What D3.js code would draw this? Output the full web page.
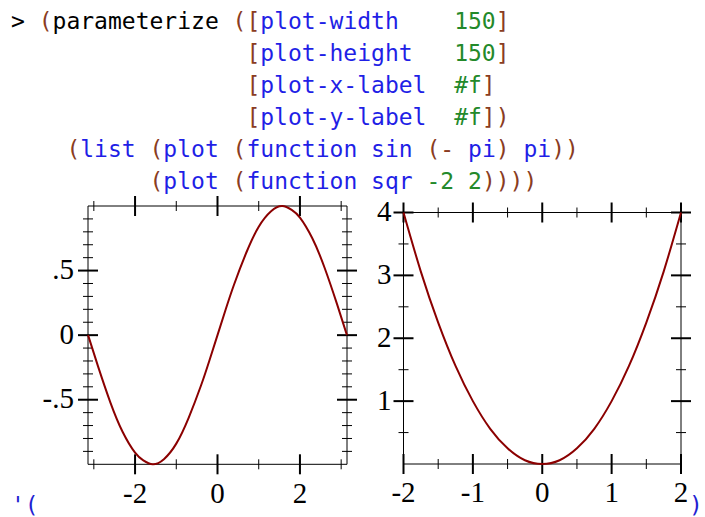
<!DOCTYPE html>
<html>
<head>
<meta charset="utf-8">
<script src="https://cdn.jsdelivr.net/npm/d3@7"></script>
<style>
  html, body { margin: 0; padding: 0; background: #fff; }
  svg { display: block; }
  .code { font-family: "DejaVu Sans Mono", monospace; font-size: 23px; white-space: pre; }
  .tick-label { font-family: "Liberation Serif", "Times New Roman", serif; font-size: 29px; fill: #000; }
</style>
</head>
<body>
<svg id="chart" width="705" height="517"></svg>
<script>
// REPL text, one token list per line: [kind, text]
const codeLines = [
  [['plain', '> '], ['paren', '('], ['plain', 'parameterize'], ['plain', ' '], ['paren', '(['], ['sym', 'plot-width'], ['plain', '    '], ['val', '150'], ['paren', ']']],
  [['plain', '                 '], ['paren', '['], ['sym', 'plot-height'], ['plain', '   '], ['val', '150'], ['paren', ']']],
  [['plain', '                 '], ['paren', '['], ['sym', 'plot-x-label'], ['plain', '  '], ['val', '#f'], ['paren', ']']],
  [['plain', '                 '], ['paren', '['], ['sym', 'plot-y-label'], ['plain', '  '], ['val', '#f'], ['paren', '])']],
  [['plain', '    '], ['paren', '('], ['sym', 'list'], ['plain', ' '], ['paren', '('], ['sym', 'plot'], ['plain', ' '], ['paren', '('], ['sym', 'function'], ['plain', ' '], ['sym', 'sin'], ['plain', ' '], ['paren', '(-'], ['plain', ' '], ['sym', 'pi'], ['paren', ')'], ['plain', ' '], ['sym', 'pi'], ['paren', '))']],
  [['plain', '          '], ['paren', '('], ['sym', 'plot'], ['plain', ' '], ['paren', '('], ['sym', 'function'], ['plain', ' '], ['sym', 'sqr'], ['plain', ' '], ['val', '-2'], ['plain', ' '], ['val', '2'], ['paren', '))))']]
]
const resultOpen = "'("
const resultClose = ')'

// plot 1: (function sin (- pi) pi)
const sinX = [-3.14, -2.9, -2.6, -2.3, -2.0, -1.8, -1.57, -1.3, -1.0, -0.7, -0.4, -0.2, 0, 0.2, 0.4, 0.7, 1.0, 1.3, 1.57, 1.8, 2.0, 2.3, 2.6, 2.9, 3.14]
const sinY = [0, -0.24, -0.52, -0.75, -0.91, -0.97, -1.0, -0.96, -0.84, -0.64, -0.39, -0.2, 0, 0.2, 0.39, 0.64, 0.84, 0.96, 1.0, 0.97, 0.91, 0.75, 0.52, 0.24, 0]
const sinDomainX = [-3.14159, 3.14159]
const sinDomainY = [-1, 1]
const sinXMajor = [-2, 0, 2]
const sinXMinor = [-3, -1, 1, 3]
const sinXLabels = ['-2', '0', '2']
const sinYMajor = [-0.5, 0, 0.5]
const sinYMinor = [-0.9, -0.8, -0.7, -0.6, -0.4, -0.3, -0.2, -0.1, 0.1, 0.2, 0.3, 0.4, 0.6, 0.7, 0.8, 0.9]
const sinYLabels = ['-.5', '0', '.5']

// plot 2: (function sqr -2 2)
const sqrX = [-2, -1.75, -1.5, -1.25, -1, -0.75, -0.5, -0.25, 0, 0.25, 0.5, 0.75, 1, 1.25, 1.5, 1.75, 2]
const sqrY = [4, 3.06, 2.25, 1.56, 1, 0.56, 0.25, 0.06, 0, 0.06, 0.25, 0.56, 1, 1.56, 2.25, 3.06, 4]
const sqrDomainX = [-2, 2]
const sqrDomainY = [0, 4]
const sqrXMajor = [-2, -1, 0, 1, 2]
const sqrXMinor = [-1.5, -0.5, 0.5, 1.5]
const sqrXLabels = ['-2', '-1', '0', '1', '2']
const sqrYMajor = [1, 2, 3, 4]
const sqrYMinor = [0.5, 1.5, 2.5, 3.5]
const sqrYLabels = ['1', '2', '3', '4']

const colors = { plain: '#000000', paren: '#8a3c22', sym: '#1f1fe6', val: '#23892a', out: '#1f1fd2' }
const curveColor = '#8b0000'

const svg = d3.select('#chart')

// code listing
const codeX = 11
const codeTop = 28.7
const lineStep = 32

svg.selectAll('text.code-line')
  .data(codeLines)
  .enter()
  .append('text')
  .attr('class', 'code code-line')
  .attr('xml:space', 'preserve')
  .attr('x', codeX)
  .attr('y', (d, i) => codeTop + i * lineStep)
  .selectAll('tspan')
  .data(d => d)
  .enter()
  .append('tspan')
  .attr('fill', d => colors[d[0]])
  .text(d => d[1])

svg.append('text').attr('class', 'code').attr('xml:space', 'preserve')
  .attr('x', codeX).attr('y', 513).attr('fill', colors.out).text(resultOpen)
svg.append('text').attr('class', 'code').attr('xml:space', 'preserve')
  .attr('x', 689).attr('y', 513).attr('fill', colors.out).text(resultClose)

/**
 * Draws one framed plot with ticks on all four sides and a curve.
 */
function drawPlot (cfg) {
  const x = d3.scaleLinear().domain(cfg.domainX).range([cfg.left, cfg.right])
  const y = d3.scaleLinear().domain(cfg.domainY).range([cfg.bottom, cfg.top])
  const g = svg.append('g')

  // frame
  const frame = [
    [cfg.left, cfg.top, cfg.right, cfg.top],
    [cfg.left, cfg.bottom, cfg.right, cfg.bottom],
    [cfg.left, cfg.top, cfg.left, cfg.bottom],
    [cfg.right, cfg.top, cfg.right, cfg.bottom]
  ]
  g.selectAll('line.frame')
    .data(frame)
    .enter()
    .append('line')
    .attr('class', 'frame')
    .attr('x1', d => d[0]).attr('y1', d => d[1])
    .attr('x2', d => d[2]).attr('y2', d => d[3])
    .attr('stroke', '#000')
    .attr('stroke-width', 1)

  // x ticks, bottom and top
  const xTicks = cfg.xMajor.map(v => ({ v, r: 10, w: 2 }))
    .concat(cfg.xMinor.map(v => ({ v, r: 5, w: 1 })))
  ;[cfg.top, cfg.bottom].forEach(yy => {
    g.selectAll(null)
      .data(xTicks)
      .enter()
      .append('line')
      .attr('x1', d => x(d.v)).attr('x2', d => x(d.v))
      .attr('y1', d => yy - d.r).attr('y2', d => yy + d.r)
      .attr('stroke', '#000')
      .attr('stroke-width', d => d.w)
  })

  // y ticks, left and right
  const yTicks = cfg.yMajor.map(v => ({ v, r: 10, w: 2 }))
    .concat(cfg.yMinor.map(v => ({ v, r: 5, w: 1 })))
  ;[cfg.left, cfg.right].forEach(xx => {
    g.selectAll(null)
      .data(yTicks)
      .enter()
      .append('line')
      .attr('y1', d => y(d.v)).attr('y2', d => y(d.v))
      .attr('x1', d => xx - d.r).attr('x2', d => xx + d.r)
      .attr('stroke', '#000')
      .attr('stroke-width', d => d.w)
  })

  // tick labels
  g.selectAll('text.xl')
    .data(cfg.xMajor)
    .enter()
    .append('text')
    .attr('class', 'tick-label xl')
    .attr('x', d => x(d))
    .attr('y', cfg.xLabelY)
    .attr('text-anchor', 'middle')
    .text((d, i) => cfg.xLabels[i])

  g.selectAll('text.yl')
    .data(cfg.yMajor)
    .enter()
    .append('text')
    .attr('class', 'tick-label yl')
    .attr('x', cfg.left - cfg.yLabelGap)
    .attr('y', d => y(d) + 8.5)
    .attr('text-anchor', 'end')
    .text((d, i) => cfg.yLabels[i])

  // curve
  const pts = cfg.xs.map((v, i) => [v, cfg.ys[i]])
  g.append('path')
    .datum(pts)
    .attr('fill', 'none')
    .attr('stroke', curveColor)
    .attr('stroke-width', 2)
    .attr('d', d3.line().x(d => x(d[0])).y(d => y(d[1])).curve(d3.curveNatural))
}

drawPlot({
  left: 88, right: 347, top: 206, bottom: 464.3,
  domainX: sinDomainX, domainY: sinDomainY,
  xMajor: sinXMajor, xMinor: sinXMinor, xLabels: sinXLabels,
  yMajor: sinYMajor, yMinor: sinYMinor, yLabels: sinYLabels,
  xLabelY: 502.5, yLabelGap: 14,
  xs: sinX, ys: sinY
})

drawPlot({
  left: 403.5, right: 681, top: 212.5, bottom: 464,
  domainX: sqrDomainX, domainY: sqrDomainY,
  xMajor: sqrXMajor, xMinor: sqrXMinor, xLabels: sqrXLabels,
  yMajor: sqrYMajor, yMinor: sqrYMinor, yLabels: sqrYLabels,
  xLabelY: 502, yLabelGap: 12,
  xs: sqrX, ys: sqrY
})
</script>
</body>
</html>
